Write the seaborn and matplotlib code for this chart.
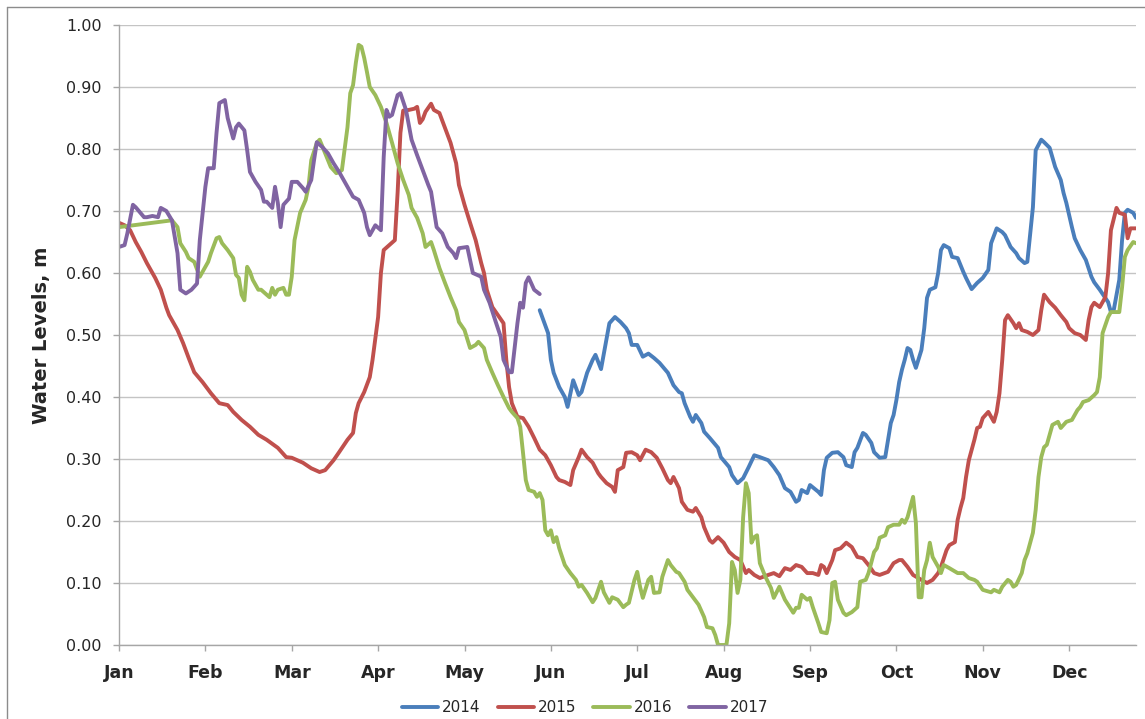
import numpy as np
import pandas as pd
import matplotlib
matplotlib.use('Agg')
import matplotlib.pyplot as plt
from matplotlib.lines import Line2D
import seaborn as sns

# Water levels (m) by day of year
days_2014 = [151, 154, 155, 156, 158, 160, 161, 163, 165, 166, 168, 170, 171, 173, 174, 176, 178, 180,
             182, 183, 184, 186, 188, 190, 192, 194, 197, 199, 201, 202, 203, 205, 206, 207, 209, 210,
             212, 215, 216, 219, 220, 222, 224, 226, 228, 230, 233, 235, 237, 239, 241, 243, 244, 245,
             247, 248, 251, 252, 253, 254, 256, 258, 260, 261, 263, 264, 265, 267, 268, 270, 271, 273,
             275, 276, 277, 278, 279, 280, 281, 282, 283, 284, 285, 286, 288, 289, 290, 291, 293, 294,
             295, 296, 298, 299, 301, 303, 304, 306, 308, 310, 312, 313, 315, 317, 318, 320, 322, 323,
             325, 326, 328, 329, 331, 332, 334, 336, 338, 339, 340, 342, 343, 345, 347, 349, 350, 352,
             355, 356, 357, 359, 360, 361, 362, 364, 365]
lvl_2014 = [0.540, 0.503, 0.460, 0.439, 0.416, 0.400, 0.384, 0.427, 0.403, 0.408, 0.439, 0.460, 0.468,
            0.445, 0.470, 0.519, 0.529, 0.521, 0.511, 0.503, 0.484, 0.484, 0.465, 0.470, 0.463, 0.455,
            0.439, 0.419, 0.408, 0.406, 0.390, 0.368, 0.360, 0.371, 0.358, 0.344, 0.334, 0.318, 0.303,
            0.287, 0.274, 0.261, 0.269, 0.287, 0.306, 0.303, 0.298, 0.287, 0.274, 0.253, 0.247, 0.231,
            0.234, 0.250, 0.245, 0.258, 0.247, 0.242, 0.282, 0.302, 0.310, 0.311, 0.303, 0.290, 0.287,
            0.311, 0.318, 0.342, 0.339, 0.326, 0.311, 0.302, 0.303, 0.331, 0.358, 0.371, 0.395, 0.424,
            0.444, 0.460, 0.479, 0.476, 0.460, 0.447, 0.476, 0.511, 0.560, 0.573, 0.577, 0.600, 0.637,
            0.645, 0.640, 0.626, 0.624, 0.602, 0.592, 0.574, 0.584, 0.592, 0.605, 0.648, 0.672, 0.666,
            0.661, 0.642, 0.632, 0.624, 0.616, 0.618, 0.706, 0.798, 0.815, 0.811, 0.802, 0.771, 0.750,
            0.729, 0.713, 0.674, 0.656, 0.637, 0.621, 0.594, 0.585, 0.573, 0.553, 0.537, 0.540, 0.589,
            0.653, 0.697, 0.702, 0.697, 0.689]

days_2015 = [0, 2, 4, 6, 8, 10, 13, 15, 17, 18, 21, 23, 25, 27, 30, 33, 36, 39, 41, 44, 47, 50, 53, 57,
             60, 62, 66, 69, 72, 74, 77, 79, 82, 84, 85, 86, 88, 90, 91, 93, 94, 95, 97, 99, 100, 101,
             102, 104, 106, 107, 108, 109, 110, 112, 113, 115, 117, 119, 121, 122, 124, 126, 128, 130,
             131, 132, 134, 136, 138, 139, 140, 141, 143, 145, 147, 149, 151, 153, 155, 157, 158, 160,
             162, 163, 165, 166, 168, 170, 172, 173, 175, 177, 178, 179, 181, 182, 184, 186, 187, 189,
             191, 193, 195, 197, 198, 199, 201, 202, 204, 206, 207, 209, 210, 212, 213, 215, 217, 219,
             221, 223, 225, 226, 228, 230, 233, 235, 237, 239, 241, 243, 245, 247, 249, 251, 252, 253,
             254, 256, 257, 259, 261, 263, 265, 267, 269, 271, 273, 276, 278, 280, 281, 283, 285, 288,
             290, 292, 294, 295, 297, 298, 300, 301, 302, 303, 304, 305, 307, 308, 309, 310, 312, 314,
             315, 316, 317, 318, 319, 321, 322, 323, 324, 326, 328, 330, 331, 332, 334, 336, 338, 340,
             341, 343, 345, 347, 348, 349, 350, 352, 354, 355, 356, 358, 359, 361, 362, 363, 365]
lvl_2015 = [0.681, 0.677, 0.669, 0.650, 0.634, 0.616, 0.592, 0.573, 0.544, 0.532, 0.508, 0.487, 0.463,
            0.440, 0.424, 0.406, 0.390, 0.387, 0.376, 0.363, 0.352, 0.339, 0.331, 0.318, 0.303, 0.302,
            0.294, 0.285, 0.279, 0.282, 0.298, 0.311, 0.331, 0.342, 0.374, 0.390, 0.408, 0.432, 0.460,
            0.529, 0.600, 0.637, 0.645, 0.653, 0.730, 0.826, 0.862, 0.863, 0.865, 0.868, 0.842, 0.848,
            0.860, 0.873, 0.863, 0.858, 0.834, 0.810, 0.777, 0.742, 0.710, 0.681, 0.653, 0.616, 0.600,
            0.573, 0.545, 0.532, 0.519, 0.460, 0.416, 0.390, 0.368, 0.366, 0.352, 0.334, 0.315, 0.306,
            0.290, 0.271, 0.266, 0.263, 0.258, 0.282, 0.303, 0.315, 0.303, 0.294, 0.277, 0.271, 0.261,
            0.255, 0.247, 0.282, 0.287, 0.310, 0.311, 0.306, 0.298, 0.315, 0.311, 0.302, 0.285, 0.266,
            0.261, 0.271, 0.253, 0.231, 0.218, 0.215, 0.221, 0.206, 0.190, 0.169, 0.165, 0.174, 0.165,
            0.150, 0.142, 0.137, 0.116, 0.121, 0.113, 0.108, 0.113, 0.116, 0.111, 0.124, 0.121, 0.129,
            0.126, 0.116, 0.116, 0.113, 0.129, 0.126, 0.116, 0.137, 0.153, 0.156, 0.165, 0.158, 0.142,
            0.140, 0.129, 0.116, 0.113, 0.118, 0.132, 0.137, 0.137, 0.126, 0.113, 0.105, 0.100, 0.105,
            0.116, 0.126, 0.153, 0.161, 0.166, 0.202, 0.221, 0.237, 0.271, 0.298, 0.331, 0.350, 0.352,
            0.366, 0.376, 0.360, 0.376, 0.406, 0.460, 0.524, 0.532, 0.519, 0.511, 0.519, 0.508, 0.505,
            0.500, 0.508, 0.540, 0.565, 0.553, 0.544, 0.532, 0.521, 0.511, 0.503, 0.500, 0.492, 0.524,
            0.545, 0.552, 0.545, 0.561, 0.600, 0.669, 0.705, 0.697, 0.694, 0.656, 0.672, 0.672]

days_2016 = [0, 19, 21, 22, 24, 25, 27, 29, 31, 32, 33, 35, 36, 37, 39, 41, 42, 43, 44, 45, 46, 47, 48,
             50, 51, 53, 54, 55, 56, 57, 59, 60, 61, 62, 63, 65, 67, 68, 69, 71, 72, 74, 76, 78, 79, 80,
             82, 83, 84, 85, 86, 87, 88, 89, 90, 92, 94, 96, 98, 100, 102, 104, 105, 107, 109, 110, 112,
             113, 115, 117, 119, 121, 122, 124, 126, 128, 129, 131, 132, 134, 136, 138, 140, 141, 143,
             144, 145, 146, 147, 149, 150, 151, 152, 153, 154, 155, 156, 157, 158, 160, 162, 164, 165,
             166, 168, 170, 171, 173, 174, 176, 177, 179, 181, 182, 183, 185, 186, 187, 188, 190, 191,
             192, 194, 195, 197, 198, 200, 201, 203, 204, 206, 208, 210, 211, 213, 214, 215, 218, 219,
             220, 221, 222, 223, 224, 225, 226, 227, 228, 229, 230, 232, 234, 235, 237, 239, 242, 243,
             244, 245, 247, 248, 249, 251, 252, 254, 255, 256, 257, 258, 260, 261, 263, 265, 266, 268,
             269, 271, 272, 273, 275, 276, 278, 280, 281, 282, 283, 285, 286, 287, 288, 289, 290, 291,
             292, 294, 295, 296, 298, 301, 303, 305, 307, 308, 310, 313, 314, 316, 317, 319, 320, 321,
             322, 324, 325, 326, 328, 329, 330, 331, 332, 333, 334, 335, 337, 338, 340, 342, 344, 345,
             346, 348, 350, 351, 352, 353, 355, 356, 359, 360, 361, 362, 364, 365]
lvl_2016 = [0.674, 0.685, 0.674, 0.648, 0.634, 0.624, 0.618, 0.594, 0.610, 0.618, 0.632, 0.656, 0.658,
            0.648, 0.637, 0.624, 0.597, 0.592, 0.565, 0.556, 0.610, 0.602, 0.589, 0.573, 0.573, 0.565,
            0.561, 0.576, 0.565, 0.573, 0.576, 0.565, 0.565, 0.594, 0.653, 0.697, 0.718, 0.739, 0.782,
            0.810, 0.815, 0.793, 0.771, 0.761, 0.763, 0.766, 0.835, 0.890, 0.903, 0.939, 0.968, 0.965,
            0.947, 0.924, 0.900, 0.887, 0.868, 0.842, 0.810, 0.777, 0.750, 0.726, 0.705, 0.689, 0.664,
            0.642, 0.650, 0.637, 0.608, 0.584, 0.561, 0.540, 0.521, 0.508, 0.479, 0.484, 0.489, 0.479,
            0.460, 0.439, 0.419, 0.400, 0.382, 0.376, 0.366, 0.352, 0.310, 0.266, 0.250, 0.247, 0.239,
            0.245, 0.234, 0.185, 0.177, 0.185, 0.166, 0.174, 0.156, 0.129, 0.116, 0.105, 0.094, 0.097,
            0.084, 0.069, 0.076, 0.102, 0.085, 0.068, 0.077, 0.073, 0.061, 0.065, 0.068, 0.105, 0.118,
            0.094, 0.076, 0.105, 0.110, 0.084, 0.085, 0.110, 0.137, 0.129, 0.118, 0.116, 0.102, 0.089,
            0.077, 0.065, 0.045, 0.029, 0.027, 0.016, 0.000, 0.000, 0.035, 0.134, 0.121, 0.084, 0.105,
            0.206, 0.261, 0.245, 0.165, 0.174, 0.177, 0.132, 0.110, 0.092, 0.076, 0.094, 0.073, 0.052,
            0.060, 0.060, 0.081, 0.073, 0.076, 0.061, 0.035, 0.021, 0.019, 0.040, 0.100, 0.102, 0.073,
            0.052, 0.048, 0.053, 0.061, 0.102, 0.105, 0.116, 0.150, 0.156, 0.173, 0.177, 0.190, 0.194,
            0.194, 0.202, 0.197, 0.206, 0.239, 0.197, 0.077, 0.077, 0.121, 0.137, 0.165, 0.142, 0.126,
            0.116, 0.129, 0.124, 0.116, 0.116, 0.108, 0.105, 0.102, 0.089, 0.085, 0.089, 0.085, 0.094,
            0.105, 0.102, 0.094, 0.097, 0.116, 0.137, 0.148, 0.181, 0.218, 0.271, 0.303, 0.319, 0.323,
            0.339, 0.355, 0.360, 0.350, 0.360, 0.363, 0.379, 0.384, 0.392, 0.395, 0.403, 0.408, 0.432,
            0.503, 0.529, 0.537, 0.537, 0.577, 0.626, 0.637, 0.650, 0.648]

days_2017 = [0, 2, 3, 5, 6, 9, 10, 12, 14, 15, 17, 19, 21, 22, 24, 26, 28, 29, 31, 32, 34, 35, 36, 38,
             39, 41, 42, 43, 45, 46, 47, 49, 51, 52, 53, 55, 56, 57, 58, 59, 61, 62, 64, 66, 67, 69, 70,
             71, 73, 75, 77, 79, 80, 82, 84, 86, 88, 89, 90, 92, 94, 95, 96, 97, 98, 100, 101, 103, 105,
             107, 109, 111, 112, 113, 114, 116, 118, 120, 121, 122, 125, 126, 127, 130, 131, 133, 135,
             137, 138, 140, 141, 143, 144, 145, 146, 147, 149, 151]
lvl_2017 = [0.642, 0.645, 0.664, 0.710, 0.706, 0.690, 0.690, 0.692, 0.690, 0.705, 0.700, 0.685, 0.632,
            0.573, 0.567, 0.573, 0.583, 0.653, 0.739, 0.769, 0.769, 0.826, 0.874, 0.879, 0.850, 0.817,
            0.835, 0.841, 0.830, 0.798, 0.763, 0.747, 0.734, 0.715, 0.715, 0.705, 0.739, 0.713, 0.674,
            0.710, 0.720, 0.747, 0.747, 0.737, 0.731, 0.750, 0.782, 0.811, 0.803, 0.793, 0.777, 0.763,
            0.755, 0.739, 0.723, 0.718, 0.697, 0.674, 0.661, 0.677, 0.669, 0.787, 0.863, 0.852, 0.855,
            0.887, 0.890, 0.863, 0.815, 0.790, 0.766, 0.742, 0.731, 0.702, 0.674, 0.664, 0.642, 0.632,
            0.624, 0.640, 0.642, 0.621, 0.600, 0.594, 0.573, 0.552, 0.524, 0.497, 0.460, 0.440, 0.440,
            0.519, 0.552, 0.544, 0.584, 0.593, 0.573, 0.566]

years = ['2014', '2015', '2016', '2017']
colors = ['#4A7EBB', '#C0504D', '#9BBB59', '#8064A2']
month_labels = ['Jan', 'Feb', 'Mar', 'Apr', 'May', 'Jun', 'Jul', 'Aug', 'Sep', 'Oct', 'Nov', 'Dec']
month_ticks = [31 * i for i in range(12)]

frames = []
for yr, d, v in zip(years, [days_2014, days_2015, days_2016, days_2017],
                    [lvl_2014, lvl_2015, lvl_2016, lvl_2017]):
    frames.append(pd.DataFrame({'day': d, 'level': v, 'year': yr}))
df = pd.concat(frames, ignore_index=True)

sns.set_theme(style='white')
plt.rcParams['font.family'] = ['DejaVu Sans']

fig = plt.figure(figsize=(11.45, 7.19), dpi=100)
ax = fig.add_axes([119 / 1145, 1 - 645 / 719, (1136 - 119) / 1145, (645 - 25) / 719])

sns.lineplot(data=df, x='day', y='level', hue='year', hue_order=years,
             palette=colors, linewidth=2.8, estimator=None, sort=True, ax=ax)

ax.set_xlim(0, 365)
ax.set_ylim(0, 1.0)
ax.set_xticks(month_ticks)
ax.set_xticklabels(month_labels, fontsize=12.5, fontweight='bold')
ax.set_yticks(np.arange(0, 1.01, 0.1))
ax.set_yticklabels([f'{t:.2f}' for t in np.arange(0, 1.01, 0.1)], fontsize=11.5)
ax.set_xlabel('')
ax.set_ylabel('Water Levels, m', fontsize=14, fontweight='bold', labelpad=11)

ax.grid(axis='y', color='#C4C4C4', linewidth=1.0)
ax.grid(axis='x', visible=False)
ax.set_axisbelow(True)
for s in ['top', 'right']:
    ax.spines[s].set_visible(False)
for s in ['left', 'bottom']:
    ax.spines[s].set_color('#A6A6A6')
    ax.spines[s].set_linewidth(1.0)
ax.tick_params(axis='y', direction='out', length=4.5, width=1, color='#A6A6A6', pad=8, left=True)
ax.tick_params(axis='x', direction='out', length=4, width=1, color='#A6A6A6', pad=10, bottom=True)

handles, labels = ax.get_legend_handles_labels()
ax.get_legend().remove()
fig.legend(handles, labels, loc='center', bbox_to_anchor=(585 / 1145, 1 - 708 / 719), ncol=4,
           frameon=False, fontsize=11, handlelength=2.4, handletextpad=0.25, columnspacing=1.1)

# chart area border (only top and left edges fall inside the picture)
fig.add_artist(Line2D([7 / 1145, 1], [1 - 7 / 719, 1 - 7 / 719], transform=fig.transFigure,
                      color='#8C8C8C', linewidth=1))
fig.add_artist(Line2D([7 / 1145, 7 / 1145], [0, 1 - 7 / 719], transform=fig.transFigure,
                      color='#8C8C8C', linewidth=1))

plt.savefig('out.png', dpi=100)
plt.close()
